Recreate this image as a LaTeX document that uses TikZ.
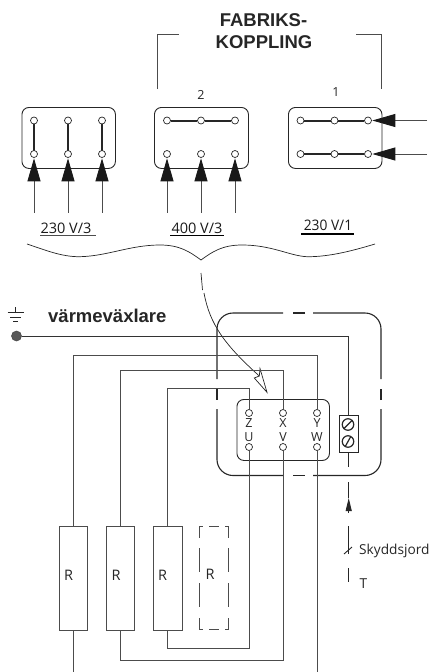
\documentclass[tikz,border=0pt]{standalone}
\usepackage{fontspec}
\setmainfont{Open Sans}
\newfontfamily\headfont{Liberation Sans}
\usetikzlibrary{arrows.meta,calc}
\definecolor{wire}{gray}{0.3}
\tikzset{
  x=1pt,y=-1pt,
  panel/.style={draw=black!85,line width=0.9pt,rounded corners=7pt,fill=none,inner sep=0pt,anchor=north west},
  term/.style={circle,draw=black!85,line width=0.7pt,fill=white,inner sep=0pt,minimum size=7pt},
  link/.style={line width=2pt,black!85},
  feed/.style={wire,line width=0.9pt,-{Triangle[length=23pt,width=13pt,fill=black!90,color=black!90]},shorten >=0.5pt},
  wiring/.style={wire,line width=0.9pt},
  heat/.style={draw=wire,line width=0.9pt,minimum width=28.5pt,minimum height=103.5pt,inner sep=0pt,anchor=north west},
  lab/.style={inner sep=0pt,font=\fontsize{12.5}{14}\selectfont,text=black!85},
  rlab/.style={inner sep=0pt,font=\fontsize{14.5}{16}\selectfont,text=black!85,anchor=west},
  slab/.style={inner sep=0pt,font=\fontsize{13.7}{16}\selectfont,text=black!85,anchor=west},
  vlab/.style={inner sep=0pt,font=\fontsize{14.5}{16}\selectfont,text=black!90},
  head/.style={inner sep=0pt,font=\headfont\bfseries\fontsize{18.5}{20}\selectfont,text=black!85},
  outline/.style={black!85,line width=1.1pt},
  screw/.style={circle,draw=black!85,line width=1.2pt,inner sep=0pt,minimum size=11.5pt},
}
\begin{document}
\begin{tikzpicture}
\useasboundingbox (0,0) rectangle (429,672);
% headings
\node[head] (h1) at (263.5,20) {FABRIKS-};
\node[head] (h2) at (264,42) {KOPPLING};
\draw[wire,line width=0.9pt] (157,89) -- (157,34.5) -- (179,34.5);
\draw[wire,line width=0.9pt] (356,34.5) -- (381,34.5) -- (381,89);
\node[lab] (n2) at (201,94.5) {2};
\node[lab] (n1) at (336,92.5) {1};
% panels
\node[panel,minimum width=93.5pt,minimum height=61pt] (pa) at (21.5,107) {};
\node[panel,minimum width=94pt,minimum height=61pt] (pb) at (154,107) {};
\node[panel,minimum width=93.5pt,minimum height=61pt] (pc) at (288,107) {};
% feeds' free ends
\foreach \n/\x in {a1/34,a2/68,a3/102,b1/167,b2/201,b3/235}{
  \coordinate (\n in) at (\x,212.5);
}
\coordinate (c1in) at (427,120.5);
\coordinate (c2in) at (427,154);
% terminals
\foreach \n/\x in {a1/34,a2/68,a3/102}{
  \draw[link] (\x,120.5) -- (\x,154);
  \node[term] (\n t) at (\x,120.5) {};
  \node[term] (\n) at (\x,154) {};
  \draw[feed] (\n in) -- (\n);
}
\foreach \n/\x/\k in {b1/167/1,b2/201/2,b3/235/3}{
  \node[term] (\n t) at (\x,120.5) {};
  \node[term] (\n) at (\x,154) {};
  \draw[feed] (\n in) -- (\n);
}
\draw[link] (b1t) -- (b2t);
\draw[link] (b2t) -- (b3t);
\foreach \n/\y in {c1/120.5,c2/154}{
  \node[term] (\n l) at (300.5,\y) {};
  \node[term] (\n m) at (334.5,\y) {};
  \node[term] (\n) at (368,\y) {};
  \draw[link] (\n l) -- (\n m);
  \draw[link] (\n m) -- (\n);
  \draw[feed] (\n in) -- (\n);
}
% voltage labels
\node[vlab] (v1) at (66,228) {230 V/3};
\node[vlab] (v2) at (197,228) {400 V/3};
\node[vlab,xscale=0.95] (v3) at (328,225) {230 V/1};
\draw[wire,line width=0.8pt] (40,235.5) -- (96,235.5);
\draw[black,line width=1.1pt] (170,235.5) -- (224,235.5);
\draw[black,line width=1.1pt] (301,234) -- (354,234);
% brace
\draw[black!85,line width=0.7pt] (27,244) .. controls (45,250) and (62,257) .. (80,256.7)
  .. controls (108,256) and (130,245) .. (160,245)
  .. controls (180,245) and (190,252) .. (201,260)
  .. controls (212,252) and (222,245) .. (242,245)
  .. controls (272,245) and (290,256) .. (307,256.7)
  .. controls (330,257) and (355,250) .. (375,244);
\draw[black!85,line width=0.7pt] (201,273) -- (202.5,290);
% pointer
\draw[black!85,line width=0.7pt] (204,293) .. controls (210,325) and (225,345) .. (259.3,376);
\draw[black!85,line width=0.7pt] (267,392.3) -- (260,368.5) -- (259.3,376) -- (254.3,378) -- cycle;
% earth
\draw[black!85,line width=0.9pt] (15.7,307) -- (15.7,312);
\draw[black!85,line width=0.9pt] (7.5,312) -- (24,312);
\draw[black!85,line width=0.9pt] (10,317) -- (21,317);
\draw[black!85,line width=0.9pt] (13,321.5) -- (18,321.5);
\node[circle,draw=wire,fill=black!65,line width=0.6pt,inner sep=0pt,minimum size=10pt] (dot) at (16.5,336) {};
\node[head,anchor=west] (hx) at (48,316) {värmeväxlare};
% outer dashed housing
\draw[outline,rounded corners=16pt] (283,313) -- (217,313) -- (217,379);
\draw[outline] (217,389) -- (217,400);
\draw[outline,rounded corners=16pt] (217,409) -- (217,475.5) -- (283,475.5);
\draw[outline] (293,475.5) -- (305,475.5);
\draw[outline,rounded corners=16pt] (313,475.5) -- (381,475.5) -- (381,409);
\draw[outline] (381,400) -- (381,389);
\draw[outline,rounded corners=16pt] (381,379) -- (381,313) -- (313,313);
\draw[outline] (305,313) -- (293,313);
% inner panel
\node[panel,minimum width=92.5pt,minimum height=61pt] (pd) at (236.5,399) {};
\foreach \n/\x/\l/\y in {tz/249/Z/423,tx/283/X/423,ty/317/Y/423,tu/249/U/437,tv/283/V/437,tw/317/W/437}{
  \node[lab] (\n l) at (\x,\y) {\l};
}
\foreach \n/\x in {tz/249,tx/283,ty/317}{\node[term] (\n) at (\x,413) {};}
\foreach \n/\x in {tu/249,tv/283,tw/317}{\node[term] (\n) at (\x,447) {};}
% terminal block
\node[draw=black!85,line width=0.9pt,minimum width=18.5pt,minimum height=37.5pt,inner sep=0pt,anchor=north west] (tb) at (339,414.5) {};
\node[screw] (s1) at (348,424.5) {};
\node[screw] (s2) at (348,441.5) {};
\draw[black!85,line width=1.2pt] (s1.south west) -- (s1.north east);
\draw[black!85,line width=1.2pt] ($(s2.south west)+(2,0)$) -- ($(s2.north east)+(-2,0)$);
% heating elements
\node[heat] (r1) at (58.5,526) {};
\node[heat] (r2) at (105.7,526) {};
\node[heat] (r3) at (153,526) {};
\draw[wiring] (202.7,526) -- (199.3,526) -- (199.3,537.7);
\draw[wiring] (199.3,548) -- (199.3,572);
\draw[wiring] (199.3,583) -- (199.3,607);
\draw[wiring] (199.3,618) -- (199.3,629.5) -- (202.7,629.5);
\draw[wiring] (209,526) -- (219,526);
\draw[wiring] (209,629.5) -- (219,629.5);
\draw[wiring] (225,526) -- (228.3,526) -- (228.3,537.7);
\draw[wiring] (228.3,548) -- (228.3,572);
\draw[wiring] (228.3,583) -- (228.3,607);
\draw[wiring] (228.3,618) -- (228.3,629.5) -- (225,629.5);
\node[rlab] (rl1) at (64,575.5) {R};
\node[rlab] (rl2) at (111.5,575) {R};
\node[rlab] (rl3) at (158,575) {R};
\node[rlab] (rl4) at (205.5,574) {R};
% wires
\coordinate (e1) at (73,672);
\coordinate (ew) at (317,672);
\draw[wiring,black!80] (dot) -- (dot -| tb.north) -- (tb.north);
\draw[wiring] (r1.north) |- (ty |- 0,355) -- (ty);
\draw[wiring] (r2.north) |- (tx |- 0,370.5) -- (tx);
\draw[wiring] (r3.north) |- (tz |- 0,388) -- (tz);
\draw[wiring] (r1.south) -- (r1.south |- e1);
\draw[wiring] (r2.south) |- (tv |- 0,660.7) -- (tv);
\draw[wiring] (r3.south) |- (tu |- 0,648) -- (tu);
\draw[wiring] (tw) -- (ew);
% protective earth
\coordinate (pe0) at (tb.south);
\draw[black!85,line width=0.9pt] (pe0) -- (pe0 |- 0,467);
\draw[black!85,line width=0.9pt,-{Triangle[length=13pt,width=6pt]}] (pe0 |- 0,513) -- (pe0 |- 0,498);
\draw[black!85,line width=0.9pt] (pe0 |- 0,482) -- (pe0 |- 0,498);
\draw[black!85,line width=0.9pt] (pe0 |- 0,526) -- (pe0 |- 0,554);
\draw[black!85,line width=0.9pt] (344,554) -- (352,547);
\draw[black!85,line width=0.9pt] (pe0 |- 0,568) -- (pe0 |- 0,582);
\node[slab] (sk) at (359,551) {Skyddsjord};
\node[slab] (tt) at (359.5,584) {T};
\end{tikzpicture}
\end{document}
